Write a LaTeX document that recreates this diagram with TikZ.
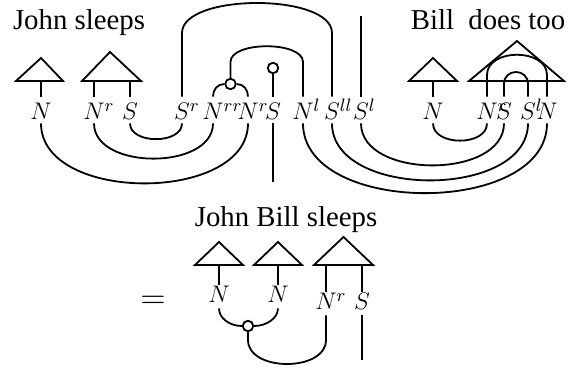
\documentclass[tikz,border=0pt]{standalone}
\usepackage{fontspec}
\setmainfont{Liberation Serif}
\tikzset{
  wire/.style={line width=0.9pt},
  tri/.style={line width=0.9pt, line join=miter},
  lab/.style={font=\fontsize{12.5}{14}\selectfont, inner xsep=0pt, inner ysep=1.5pt, text height=10pt, text depth=0pt},
  labb/.style={font=\fontsize{12.5}{14}\selectfont, inner xsep=0pt, inner ysep=2.5pt, text height=6.5pt, text depth=0pt},
  spider/.style={circle, draw, fill=white, line width=0.9pt, inner sep=0pt, minimum size=5.25pt},
  txt/.style={font=\fontsize{14.4}{16}\selectfont, inner sep=0pt, anchor=base},
}
\begin{document}
\begin{tikzpicture}[x=0.5pt,y=-0.5pt]
\useasboundingbox (0,0) rectangle (569,369);
% ---------- top texts
\node[txt] (t1) at (79,30) {John sleeps};
\node[txt] (t2) at (488,30) {Bill\ \ does too};
% ---------- top labels
\node[lab] (n1)  at (41,110)  {$N$};
\node[lab] (n2)  at (94,110)  {$N\rlap{$^{r}$}$};
\node[lab] (s1)  at (130,110) {$S$};
\node[lab] (sr)  at (182,110) {$S\rlap{$^{r}$}$};
\node[lab] (nrr) at (213,110) {$N\rlap{$^{rr}$}$};
\node[lab] (nr)  at (248,110) {$N\rlap{$^{r}$}$};
\node[lab] (s2)  at (273,110) {$S$};
\node[lab] (nl)  at (303,110) {$N\rlap{$^{l}$}$};
\node[lab] (sll) at (332,110) {$S\rlap{$^{ll}$}$};
\node[lab] (sl)  at (361,110) {$S\rlap{$^{l}$}$};
\node[lab] (n3)  at (433,110) {$N$};
\node[lab] (n4)  at (487,110) {$N\rlap{$^{r}$}$};
\node[lab] (s3)  at (504,110) {$S$};
\node[lab] (sl2) at (528,110) {$S\rlap{$^{l}$}$};
\node[lab] (n5)  at (547,110) {$N$};
% spiders
\node[spider] (c1) at (230.5,84) {};
\node[spider] (c2) at (273,68) {};
\coordinate (send) at (273,182);
\coordinate (slend) at (361,16);
% ---------- triangles (top)
\draw[tri] (16,81) -- (41,58) -- (63,81) -- cycle;
\draw[tri] (82,81) -- (110,52) -- (141,81) -- cycle;
\draw[tri] (409,81) -- (433,58) -- (457,81) -- cycle;
\draw[tri] (469,81) -- (517,41) -- (564,81) -- cycle;
\draw[wire] (n1.north) -- (n1.north |- 0,81);
\draw[wire] (n2.north) -- (n2.north |- 0,81);
\draw[wire] (s1.north) -- (s1.north |- 0,81);
\draw[wire] (n3.north) -- (n3.north |- 0,81);
% ---------- top caps
\draw[wire] (sr.north) -- (sr.north |- 0,33) .. controls (sr.north |- 0,-7) and (sll.north |- 0,-7) .. (sll.north |- 0,33) -- (sll.north);
\draw[wire] (nrr.north) .. controls +(0,-7) and +(-7,0) .. (c1.west);
\draw[wire] (c1.east) .. controls +(7,0) and +(0,-7) .. (nr.north);
\draw[wire] (c1.north) -- (c1.north |- 0,62) .. controls (c1.north |- 0,41) and (nl.north |- 0,41) .. (nl.north |- 0,62) -- (nl.north);
\draw[wire] (s2.north) -- (c2.south);
\draw[wire] (sl.north) -- (slend);
\draw[wire] (n4.north) -- (n4.north |- 0,75) .. controls (n4.north |- 0,48) and (n5.north |- 0,48) .. (n5.north |- 0,75) -- (n5.north);
\draw[wire] (s3.north) -- (s3.north |- 0,84) .. controls (s3.north |- 0,68) and (sl2.north |- 0,68) .. (sl2.north |- 0,84) -- (sl2.north);
% ---------- top cups
\draw[wire] (n1.south) .. controls +(0,80) and +(0,80) .. (nr.south);
\draw[wire] (n2.south) .. controls +(0,47) and +(0,47) .. (nrr.south);
\draw[wire] (s1.south) .. controls +(0,21) and +(0,21) .. (sr.south);
\draw[wire] (s2.south) -- (send);
\draw[wire] (nl.south) .. controls +(0,93) and +(0,93) .. (n5.south);
\draw[wire] (sll.south) .. controls +(0,76) and +(0,76) .. (sl2.south);
\draw[wire] (sl.south) .. controls +(0,56) and +(0,56) .. (s3.south);
\draw[wire] (n3.south) .. controls +(0,23) and +(0,23) .. (n4.south);
% ---------- bottom part
\node[txt] (t3) at (286,227) {John Bill sleeps};
\node[font=\fontsize{17}{19}\selectfont, inner sep=0pt] (eq) at (153,302) {$=$};
\node[labb] (bn1) at (219,296.5) {$N$};
\node[labb] (bn2) at (278,296.5) {$N$};
\node[labb] (bnr) at (326,303.5) {$N\rlap{$^{r}$}$};
\node[labb] (bs)  at (362,303.5) {$S$};
\node[spider] (c3) at (248,326) {};
\coordinate (bsend) at (362,360);
\draw[tri] (195,265) -- (219,242) -- (243,265) -- cycle;
\draw[tri] (254,265) -- (278,242) -- (302,265) -- cycle;
\draw[tri] (314,265) -- (343.5,237) -- (373,265) -- cycle;
\draw[wire] (bn1.north) -- (bn1.north |- 0,265);
\draw[wire] (bn2.north) -- (bn2.north |- 0,265);
\draw[wire] (bnr.north) -- (bnr.north |- 0,265);
\draw[wire] (bs.north) -- (bs.north |- 0,265);
\draw[wire] (bn1.south) .. controls +(0,10) and +(-12,0) .. (c3.west);
\draw[wire] (bn2.south) .. controls +(0,10) and +(12,0) .. (c3.east);
\draw[wire] (c3.south) -- (c3.south |- 0,340) .. controls (c3.south |- 0,372) and (bnr.south |- 0,372) .. (bnr.south |- 0,340) -- (bnr.south);
\draw[wire] (bs.south) -- (bsend);
\end{tikzpicture}
\end{document}
